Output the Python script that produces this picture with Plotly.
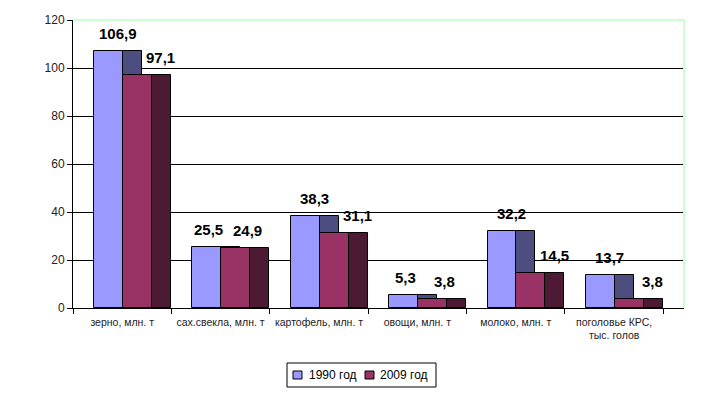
import plotly.graph_objects as go

categories = ["зерно, млн. т", "сах.свекла, млн. т", "картофель, млн. т",
              "овощи, млн. т", "молоко, млн. т", "поголовье КРС,<br>тыс. голов"]
values_1990 = [106.9, 25.5, 38.3, 5.3, 32.2, 13.7]
values_2009 = [97.1, 24.9, 31.1, 3.8, 14.5, 3.8]
series_names = ["1990 год", "2009 год"]
y_ticks = [0, 20, 40, 60, 80, 100, 120]

FRONT_W = 0.294
SIDE_W = 0.193
OFF_1990 = -0.287
OFF_2009 = OFF_1990 + FRONT_W

col_front = ["#9999FF", "#993366"]
col_side = ["#4D4D80", "#4D1A33"]

# figure geometry (page is offset by the 8px body margin)
W, H = 720, 389
ML, MR, MT, MB = 65, 44, 12, 89
PW, PH = W - ML - MR, H - MT - MB

def px(xf):
    return (xf - ML) / PW

def py(yf):
    return (MT + PH - yf) / PH

fig = go.Figure()
for k, (vals, off) in enumerate([(values_1990, OFF_1990), (values_2009, OFF_2009)]):
    fig.add_trace(go.Bar(x=categories, y=vals, offset=off + FRONT_W, width=SIDE_W,
                         marker=dict(color=col_side[k], line=dict(color="black", width=1)),
                         showlegend=False, hoverinfo="skip"))
    fig.add_trace(go.Bar(x=categories, y=vals, offset=off, width=FRONT_W, name=series_names[k],
                         marker=dict(color=col_front[k], line=dict(color="black", width=1)),
                         showlegend=False))

def fmt(v):
    return f"{v:.1f}".replace(".", ",")

lab_font = dict(family="Liberation Sans", size=15, color="black", weight="bold")
annotations = []
for i, cat in enumerate(categories):
    v1, v2 = values_1990[i], values_2009[i]
    close = (v1 - v2) < 5
    annotations.append(dict(x=i + OFF_1990 + (FRONT_W + SIDE_W) / 2, y=v1, xref="x", yref="y",
                            text=fmt(v1), showarrow=False, yanchor="bottom", yshift=7,
                            xshift=-8 if close else 0, font=lab_font))
    annotations.append(dict(x=i + OFF_2009 + (FRONT_W + SIDE_W) / 2, y=v2, xref="x", yref="y",
                            text=fmt(v2), showarrow=False, yanchor="bottom", yshift=7,
                            xshift=2 if close else 14, font=lab_font))

# custom legend
shapes = [
    dict(type="line", xref="paper", yref="paper", x0=0, x1=1, y0=1, y1=1,
         line=dict(color="#CCFFCC", width=2), layer="above"),
    dict(type="line", xref="paper", yref="paper", x0=1, x1=1, y0=0, y1=1,
         line=dict(color="#CCFFCC", width=2), layer="above"),
    dict(type="rect", xref="paper", yref="paper", x0=px(279), x1=px(428), y0=py(355), y1=py(379),
         line=dict(color="black", width=1), fillcolor="white"),
]
leg_marker_x = [285, 357]
leg_text_x = [299, 370]
for k in range(2):
    shapes.append(dict(type="rect", xref="paper", yref="paper",
                       x0=px(leg_marker_x[k]), x1=px(leg_marker_x[k] + 9),
                       y0=py(363), y1=py(371),
                       fillcolor=col_front[k], line=dict(color="black", width=1)))
    annotations.append(dict(x=px(leg_text_x[k]), y=py(367), xref="paper", yref="paper",
                            text=series_names[k], showarrow=False, xanchor="left", yanchor="middle",
                            font=dict(family="Liberation Sans", size=12, color="black")))

fig.update_layout(
    width=W, height=H,
    margin=dict(l=ML, r=MR, t=MT, b=MB),
    paper_bgcolor="white", plot_bgcolor="white",
    barmode="overlay",
    bargap=0,
    font=dict(family="Liberation Sans", color="#222"),
    annotations=annotations,
    shapes=shapes,
    showlegend=False,
    xaxis=dict(type="category", range=[-0.5, 5.71], tickson="boundaries",
               ticks="outside", ticklen=5, tickcolor="black", showline=True,
               linecolor="black", linewidth=1, showgrid=False, automargin=False,
               ticklabelstandoff=4, tickangle=0,
               tickfont=dict(size=10.5, color="#222")),
    yaxis=dict(range=[0, 120], tickvals=y_ticks, ticks="outside", ticklen=5, tickcolor="black",
               showline=True, linecolor="black", linewidth=1, showgrid=True, automargin=False,
               gridcolor="black", gridwidth=1, zeroline=False,
               tickfont=dict(size=12, color="#222")),
)

fig.write_html("out.html")
